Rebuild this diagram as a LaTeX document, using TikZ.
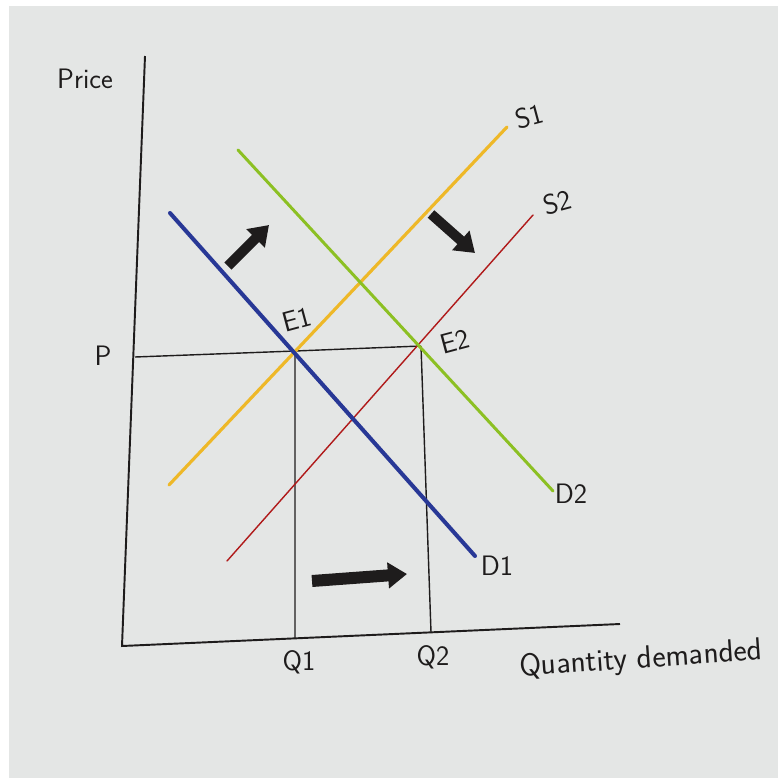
\documentclass[tikz,border=0pt]{standalone}
\usepackage{tikz}
\usetikzlibrary{arrows.meta}
\definecolor{paper}{RGB}{228,230,229}
\definecolor{dblue}{RGB}{40,56,150}
\definecolor{dgreen}{RGB}{140,192,35}
\definecolor{syellow}{RGB}{238,184,40}
\definecolor{sred}{RGB}{176,26,26}
\definecolor{ink}{RGB}{30,28,28}
\begin{document}
\begin{tikzpicture}[x=0.02cm,y=-0.02cm,
lbl/.style={font=\sffamily\fontsize{16}{18}\selectfont,text=ink,inner sep=0pt},
guide/.style={ink,line width=0.8pt},
curve/.style={line width=#1,line cap=round},
shiftarrow/.style={ink,line width=0.2cm,-{Triangle[width=0.5cm,length=0.38cm]}}]
\useasboundingbox(0,0)rectangle(778,778);
\fill[white](0,0)rectangle(778,778);
\fill[paper](9,6)rectangle(778,778);
\coordinate(ytop)at(145,56);
\coordinate(O)at(122,646);
\coordinate(xend)at(620,624);
\coordinate(E1)at(295,351);
\coordinate(E2)at(421,346);
\coordinate(Pl)at(135,357);
\coordinate(Q1b)at(295,638);
\coordinate(Q2b)at(431,632);
\draw[ink,line width=1.1pt](ytop)--(O)--(xend);
\draw[guide](Pl)--(E1)--(E2)
(E1)--(Q1b)
(E2)--(Q2b);
\coordinate(D1a)at(170,213);
\coordinate(D1b)at(475,556);
\coordinate(D2a)at(238,150);
\coordinate(D2b)at(553,491);
\coordinate(S1a)at(169,485);
\coordinate(S1b)at(507,127);
\coordinate(S2a)at(227,561);
\coordinate(S2b)at(533,215);
\draw[curve=1.8pt,syellow](S1a)--(S1b);
\draw[curve=0.8pt,sred](S2a)--(S2b);
\draw[curve=1.7pt,dgreen](D2a)--(D2b);
\draw[curve=2.3pt,dblue](D1a)--(D1b);
\coordinate(a1s)at(228,266);
\coordinate(a1e)at(269,225);
\coordinate(a2s)at(431,214);
\coordinate(a2e)at(475,253);
\coordinate(a3s)at(312,581);
\coordinate(a3e)at(407,574);
\draw[shiftarrow](a1s)--(a1e);
\draw[shiftarrow](a2s)--(a2e);
\draw[shiftarrow,line width=0.24cm](a3s)--(a3e);
\node[lbl](price)at(85,79){Price};
\node[lbl](plab)at(103,356){P};
\node[lbl,rotate=15](e1lab)at(297,319){E1};
\node[lbl,rotate=15](e2lab)at(455,341){E2};
\node[lbl,rotate=15](s1lab)at(529,116){S1};
\node[lbl,rotate=15](s2lab)at(557,202){S2};
\node[lbl](d2lab)at(571,494){D2};
\node[lbl](d1lab)at(497,566){D1};
\node[lbl](q1lab)at(299,662){Q1};
\node[lbl](q2lab)at(433,657){Q2};
\node[lbl,font=\sffamily\fontsize{18}{20}\selectfont,rotate=4](qlab)at(641,660){Quantity demanded};
\end{tikzpicture}
\end{document}
